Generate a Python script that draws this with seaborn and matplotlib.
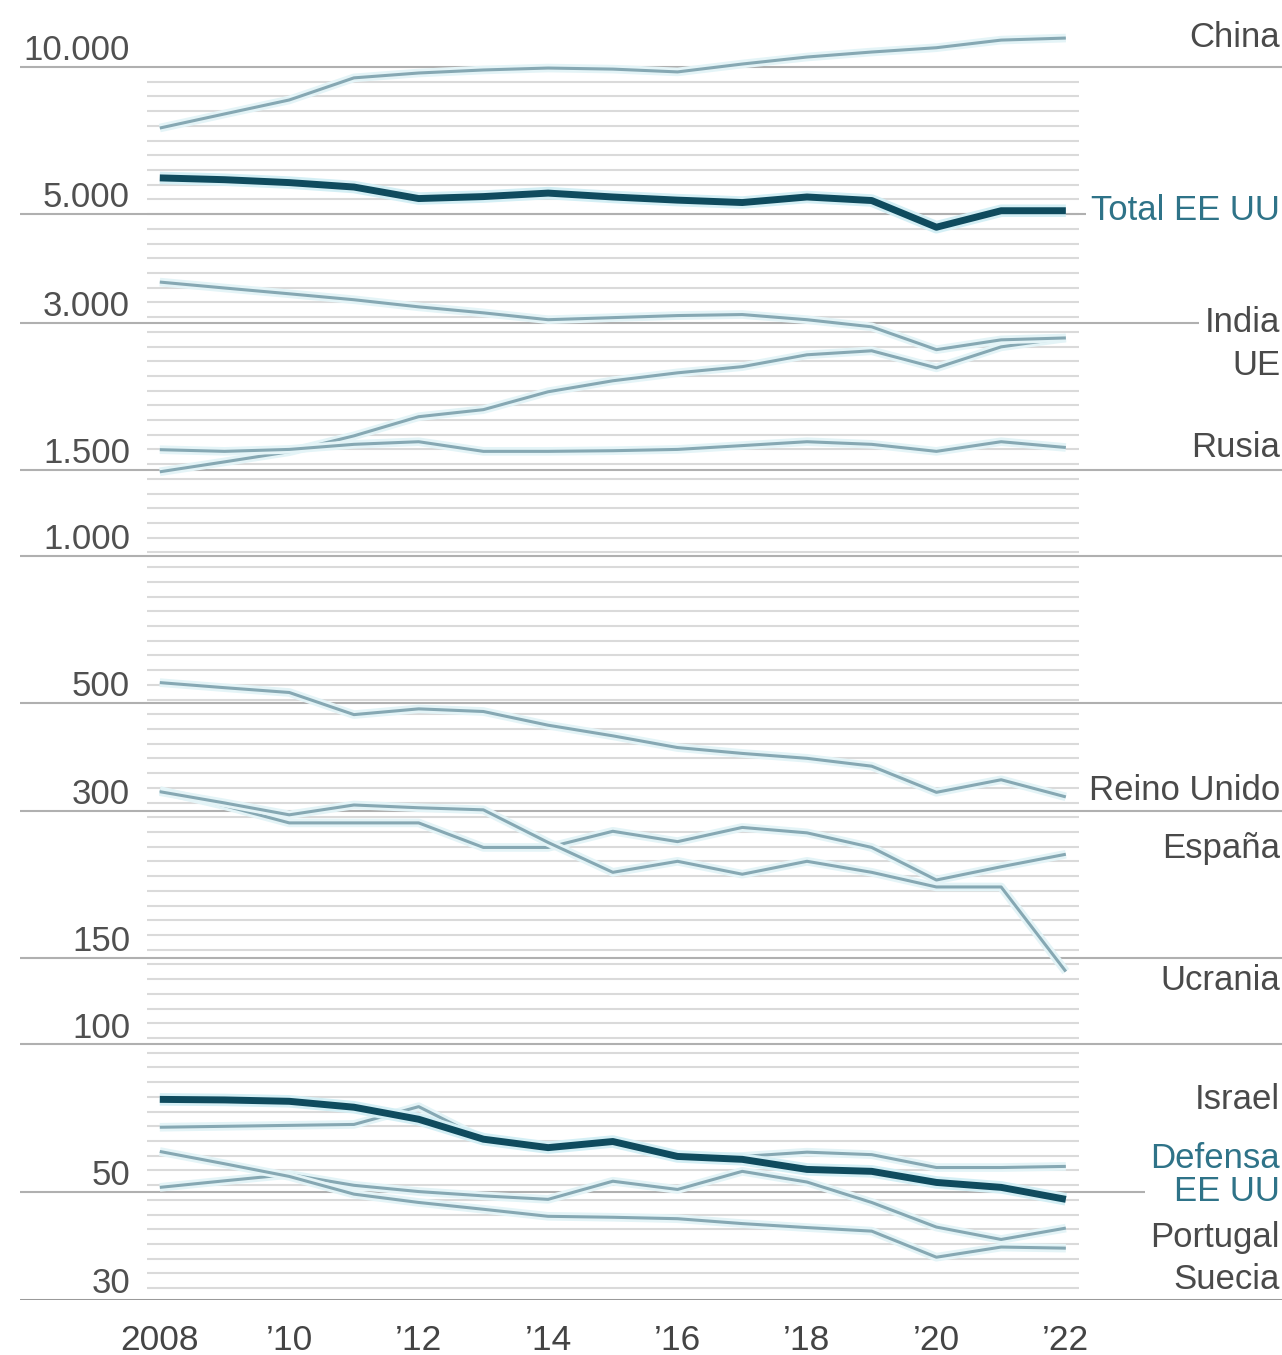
import numpy as np
import pandas as pd
import matplotlib.pyplot as plt
import matplotlib.patheffects as pe
import seaborn as sns

# ── data (log scale) ────────────────────────────────────────────────────────
years = list(range(2008, 2023))

china       = [7500, 8015, 8560, 9500, 9720, 9860, 9950, 9900, 9770, 10140, 10480, 10730, 10950, 11350, 11460]
total_eeuu  = [5930, 5880, 5800, 5680, 5380, 5430, 5520, 5420, 5340, 5280, 5420, 5330, 4700, 5080, 5080]
ue          = [3630, 3530, 3435, 3340, 3230, 3140, 3040, 3070, 3100, 3115, 3040, 2940, 2640, 2765, 2790]
india       = [1485, 1556, 1632, 1759, 1925, 1990, 2165, 2280, 2367, 2437, 2577, 2626, 2423, 2675, 2790]
rusia       = [1648, 1635, 1650, 1690, 1711, 1635, 1635, 1640, 1650, 1680, 1711, 1690, 1635, 1711, 1665]
reino_unido = [550, 537, 525, 473, 486, 480, 450, 428, 405, 394, 385, 371, 328, 348, 321]
espana      = [331, 308, 284, 284, 284, 253, 253, 273, 260, 278, 271, 253, 217, 231, 245]
ucrania     = [329, 312, 295, 309, 305, 302, 259, 225, 237, 223, 237, 225, 210, 210, 141]
israel      = [67.7, 68, 68.3, 68.6, 74.6, 64, 62, 63, 58.7, 59, 60.2, 59.5, 56, 56, 56.3]
defensa     = [77.2, 77, 76.5, 74.4, 70.3, 64, 61.5, 63.3, 59, 58.2, 55.5, 55, 52.2, 51, 48.2]
portugal    = [51, 52.6, 54.2, 51.5, 50, 49, 48.2, 52.5, 50.5, 55, 52.3, 47.5, 42.3, 39.9, 42.1]
suecia      = [60.4, 57, 53.7, 49.4, 47.5, 46, 44.5, 44.3, 44, 43, 42.2, 41.5, 36.7, 38.5, 38.3]

thin_series = {'China': china, 'UE': ue, 'India': india, 'Rusia': rusia,
               'Reino Unido': reino_unido, 'España': espana, 'Ucrania': ucrania,
               'Israel': israel, 'Portugal': portugal, 'Suecia': suecia}
thick_series = {'Total EE UU': total_eeuu, 'Defensa EE UU': defensa}

y_ticks = [10000, 5000, 3000, 1500, 1000, 500, 300, 150, 100, 50, 30]
y_tick_labels = ['10.000', '5.000', '3.000', '1.500', '1.000', '500', '300', '150', '100', '50', '30']
x_ticks = [2008, 2010, 2012, 2014, 2016, 2018, 2020, 2022]
x_tick_labels = ['2008', '’10', '’12', '’14', '’16', '’18', '’20', '’22']


def long_form(d):
    return pd.DataFrame([{'year': y, 'serie': s, 'valor': v}
                         for s, vals in d.items() for y, v in zip(years, vals)])


thin_df = long_form(thin_series)
thick_df = long_form(thick_series)

# ── style ────────────────────────────────────────────────────────────────────
sns.set_theme(style='white')
plt.rcParams['font.family'] = ['Liberation Sans', 'DejaVu Sans']

LIGHT = '#86a8b3'
DARK = '#0f4b5e'
TEAL_TXT = '#2f7388'
GREY_TXT = '#4a4a4a'

fig = plt.figure(figsize=(12.82, 13.55), dpi=100, facecolor='white')
ax = fig.add_axes([20 / 1282, 55 / 1355, 1262 / 1282, 1300 / 1355])
ax.set_yscale('log')
ax.set_ylim(30, 13710)
ax.set_xlim(2005.84, 2025.34)

# background grid: dense thin lines over the data span, major lines full width
minor = [10000 * 2 ** (-k / 10) for k in range(1, 84)]
ax.hlines(minor, 2007.8, 2022.2, color='#dadada', lw=1.5, zorder=0.5)
for v in y_ticks[:-1]:
    ax.axhline(v, color='#b0b0b0', lw=1.5, zorder=1)
ax.axhline(30, color='#9a9a9a', lw=2.2, zorder=1)

# ── lines ────────────────────────────────────────────────────────────────────
n_grid = len(ax.lines)
sns.lineplot(data=thin_df, x='year', y='valor', units='serie', estimator=None,
             color=LIGHT, lw=2.2, ax=ax, zorder=3, legend=False)
sns.lineplot(data=thick_df, x='year', y='valor', units='serie', estimator=None,
             color=DARK, lw=5, ax=ax, zorder=4, legend=False)

for line in ax.lines[n_grid:]:
    lw = line.get_linewidth()
    halo = '#d4eff5' if lw > 3 else '#e4f4f7'
    line.set_path_effects([pe.Stroke(linewidth=lw + 4, foreground=halo), pe.Normal()])
    line.set_solid_capstyle('butt')

# ── axes text ────────────────────────────────────────────────────────────────
ytr = ax.get_yaxis_transform()
for v, lab in zip(y_ticks, y_tick_labels):
    ax.annotate(lab, xy=(0.0872, v), xycoords=ytr, xytext=(0, 5),
                textcoords='offset points', ha='right', va='baseline',
                fontsize=25, color='#505050')

ax.set_yticks([])
ax.minorticks_off()
ax.set_yticks([], minor=True)
ax.set_xticks(x_ticks)
ax.set_xticklabels(x_tick_labels, fontsize=25.5, color='#444444')
ax.tick_params(axis='x', length=0, pad=17)
ax.set_xlabel('')
ax.set_ylabel('')
for s in ax.spines.values():
    s.set_visible(False)

# right-hand labels; the ones sitting on a grid line get a white box
label_pos = {
    'China': 11500, 'Total EE UU': 5080, 'India': 3000, 'UE': 2446,
    'Rusia': 1664, 'Reino Unido': 331, 'España': 252, 'Ucrania': 135,
    'Israel': 77, 'Defensa\nEE UU': 54, 'Portugal': 40.2, 'Suecia': 33,
}
boxed = {'Total EE UU', 'India', 'Defensa\nEE UU'}
for name, v in label_pos.items():
    col = TEAL_TXT if 'EE UU' in name else GREY_TXT
    box = dict(facecolor='white', edgecolor='none', pad=4) if name in boxed else None
    ax.text(0.9985, v, name, transform=ytr, ha='right', va='center',
            fontsize=25, color=col, linespacing=1.0,
            multialignment='right', zorder=6, bbox=box)

fig.savefig('out.png', dpi=100, facecolor='white')
